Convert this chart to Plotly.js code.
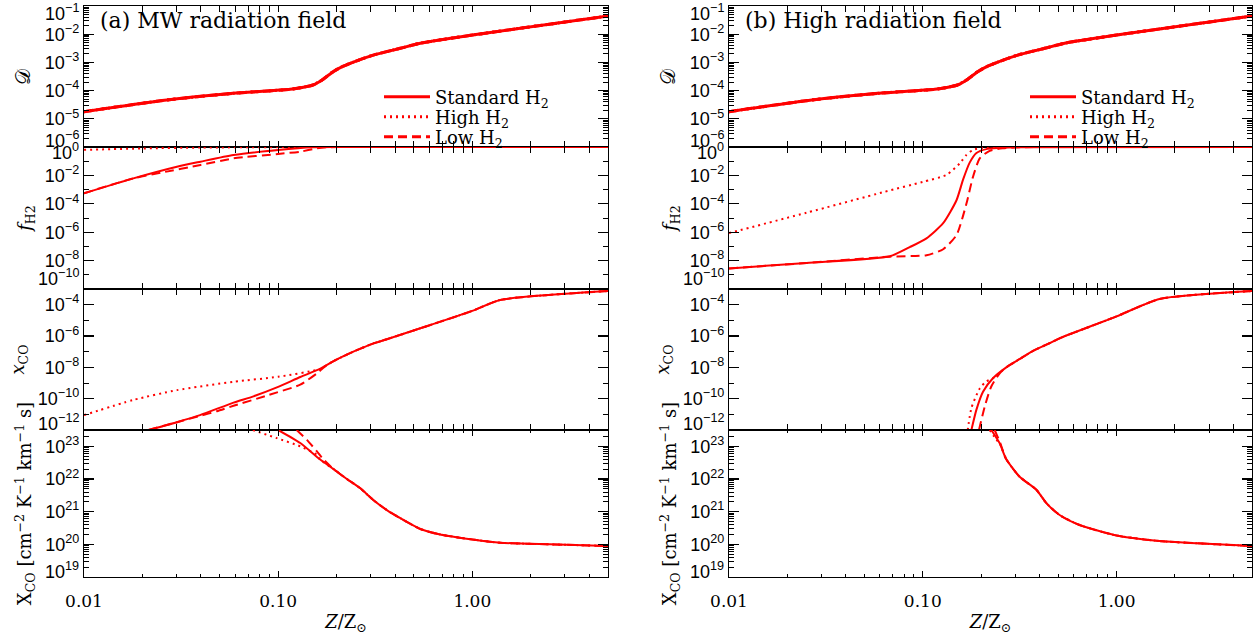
<!DOCTYPE html>
<html><head><meta charset="utf-8">
<script src="https://cdn.plot.ly/plotly-3.0.1.min.js"></script>
<style>html,body{margin:0;padding:0;background:#fff}#chart{width:1260px;height:635px}</style>
</head><body><div id="chart"></div>
<script>
// ---------- data ----------
// Top row, both columns: dust-to-gas ratio D (three H2 models coincide)
const zD = [0.01,0.0267,0.0586,0.1153,0.135,0.151,0.170,0.192,0.214,0.235,0.309,0.426,0.540,1.0,5.0];
const dD = [1.79e-5,4.65e-5,8.0e-5,1.11e-4,1.32e-4,1.58e-4,2.5e-4,4.7e-4,7.1e-4,9.3e-4,1.82e-3,3.16e-3,4.8e-3,9.3e-3,4.4e-2];

// (a) MW radiation field: f_H2
const zFa_std = [0.01,0.01795,0.0301,0.0398,0.0589,0.1,0.151,0.2,5];
const fa_std  = [5.5e-4,6.2e-3,0.041,0.093,0.275,0.62,0.955,1,1];
const zFa_high = [0.01,0.02,0.04,0.1,0.2,5];
const fa_high  = [0.63,0.79,0.91,0.98,1,1];
const zFa_low = [0.01,0.01795,0.0251,0.0398,0.0589,0.1,0.130,0.158,0.178,0.224,5];
const fa_low  = [5.5e-4,6.2e-3,0.0158,0.0537,0.158,0.324,0.468,0.813,0.955,1,1];
// (a) x_CO
const zXa_std = [0.0215,0.0301,0.0396,0.0589,0.0746,0.1,0.130,0.164,0.193,0.244,0.310,0.363,0.540,1.0,1.393,5.0];
const xa_std  = [1e-12,3.16e-12,8.9e-12,5.6e-11,1.41e-10,5.6e-10,2.4e-9,7.9e-9,2.5e-8,1e-7,3.4e-7,6.2e-7,3.1e-6,4.0e-5,2.0e-4,7.4e-4];
const zXa_high = [0.01,0.01795,0.0301,0.0589,0.1,0.164];
const xa_high  = [8.9e-12,8.3e-11,3.5e-10,1.2e-9,2.5e-9,7.9e-9];
const zXa_low = [0.0215,0.0301,0.0396,0.0483,0.0589,0.0875,0.130,0.158,0.178];
const xa_low  = [1e-12,3.16e-12,7.9e-12,1.58e-11,3.5e-11,1.58e-10,7.9e-10,4.0e-9,1.41e-8];
// (a) X_CO
const zCa_std = [0.1,0.130,0.164,0.193,0.226,0.265,0.310,0.363,0.426,0.540,0.684,1.0,1.393,2.51,5.0];
const Ca_std  = [3.16e23,1.26e23,4.0e22,2.0e22,1.0e22,5.2e21,2.24e21,1.12e21,6.3e20,2.95e20,2.0e20,1.41e20,1.12e20,1.0e20,8.9e19];
const zCa_high = [0.0741,0.0984,0.130,0.158];
const Ca_high  = [3.16e23,1.78e23,1.0e23,5.5e22];
const zCa_low = [0.1245,0.1406,0.158,0.171,0.182];
const Ca_low  = [3.16e23,1.58e23,7.1e22,4.0e22,2.8e22];

// (b) High radiation field: f_H2
const zFb_std = [0.01,0.0251,0.0676,0.0857,0.1045,0.1274,0.1493,0.1614,0.1746,0.1892,0.2128,0.2495,0.3162,5];
const fb_std  = [2.8e-9,6.8e-9,2.0e-8,8.9e-8,3.7e-7,4.3e-6,1.78e-4,5.0e-3,0.079,0.38,0.71,0.85,0.955,1];
const zFb_high = [0.01,0.0251,0.0631,0.1,0.1324,0.1552,0.1679,0.1816,0.2042,0.2512,5];
const fb_high  = [8.7e-7,2.34e-5,6.8e-4,3.5e-3,0.0107,0.0708,0.275,0.617,0.891,1,1];
const zFb_low = [0.01,0.0251,0.0676,0.1045,0.1274,0.1493,0.1679,0.1816,0.1968,0.2213,0.2582,0.3162,5];
const fb_low  = [2.8e-9,6.8e-9,1.9e-8,2.4e-8,6.3e-8,6.3e-7,1.0e-4,7.9e-3,0.158,0.54,0.81,0.955,1];
// (b) x_CO
const zXb_std = [0.1782,0.1892,0.2046,0.2301,0.2698,0.3162,0.3707,0.4519,0.5082,1.0,1.667,5.0];
const xb_std  = [1e-12,2.0e-11,2.8e-10,2.0e-9,1.0e-8,3.4e-8,1.12e-7,3.5e-7,7.1e-7,1.78e-5,2.3e-4,7.4e-4];
const zXb_high = [0.1706,0.1782,0.1968,0.2128];
const xb_high  = [1e-12,2.5e-11,4.5e-10,1.26e-9];
const zXb_low = [0.195,0.2089,0.2254,0.2495];
const xb_low  = [1e-12,3.2e-11,5.8e-10,4.2e-9];
// (b) X_CO
const zCb_std = [0.2259,0.2495,0.2698,0.3162,0.3855,0.4345,0.5082,0.6442,1.0,1.667,5.0];
const Cb_std  = [3.16e23,1.23e23,4.0e22,1.17e22,4.7e21,1.82e21,7.9e20,3.9e20,1.86e20,1.26e20,8.9e19];
const zCb_high = [0.2213,0.2399];
const Cb_high  = [3.16e23,1.58e23];
const zCb_low = [0.235,0.2512,0.2594];
const Cb_low  = [3.16e23,1.26e23,7.1e22];

// tick labels / texts
const xTickVals = [0.01, 0.1, 1];
const xTickText = ['0.01', '0.10', '1.00'];
const panelTitles = ['(a) MW radiation field', '(b) High radiation field'];
const seriesNames = {std: 'Standard H<sub>2</sub>', high: 'High H<sub>2</sub>', low: 'Low H<sub>2</sub>'};
const yTitles = ['\u{1D49F}', '<i>f</i><sub>H2</sub>', '<i>x</i><sub>CO</sub>',
  'X<sub>CO</sub> [cm<sup>\u22122</sup> K<sup>\u22121</sup> km<sup>\u22121</sup> s]'];

// ---------- helpers ----------
function withTail(z, v, zt, vt) {
  const last = z[z.length - 1];
  const zz = z.slice(), vv = v.slice();
  for (let i = 0; i < zt.length; i++) if (zt[i] > last) { zz.push(zt[i]); vv.push(vt[i]); }
  return [zz, vv];
}
const cols = [
  [
    {std: [zD, dD], high: [zD, dD], low: [zD, dD]},
    {std: [zFa_std, fa_std], high: [zFa_high, fa_high], low: [zFa_low, fa_low]},
    {std: [zXa_std, xa_std], high: withTail(zXa_high, xa_high, zXa_std, xa_std), low: withTail(zXa_low, xa_low, zXa_std, xa_std)},
    {std: [zCa_std, Ca_std], high: withTail(zCa_high, Ca_high, zCa_std, Ca_std), low: withTail(zCa_low, Ca_low, zCa_std, Ca_std)}
  ],
  [
    {std: [zD, dD], high: [zD, dD], low: [zD, dD]},
    {std: [zFb_std, fb_std], high: [zFb_high, fb_high], low: [zFb_low, fb_low]},
    {std: [zXb_std, xb_std], high: withTail(zXb_high, xb_high, zXb_std, xb_std), low: withTail(zXb_low, xb_low, zXb_std, xb_std)},
    {std: [zCb_std, Cb_std], high: withTail(zCb_high, Cb_high, zCb_std, Cb_std), low: withTail(zCb_low, Cb_low, zCb_std, Cb_std)}
  ]
];

const RED = '#ff0000';
const dashes = {std: 'solid', high: '2px,4px', low: '9px,5px'};
const kinds = ['std', 'high', 'low'];

// geometry
const W = 1260, H = 635, ML = 84, MR = 8, MT = 6, MB = 58;
const PW = W - ML - MR, PH = H - MT - MB;
const colDom = [[0, 524 / PW], [645 / PW, 1]];
const rowPx = [6, 147, 289, 430, 577];
const rowDom = r => [(H - MB - rowPx[r + 1]) / PH, (H - MB - rowPx[r]) / PH];
const px2x = p => (p - ML) / PW;
const px2y = p => (H - MB - p) / PH;

const rowSpec = [
  {lo: -6, hi: -1, labels: [-5, -4, -3, -2], majors: [-6, -5, -4, -3, -2, -1], dense: true, edges: [[-1, -6], [-6, 8]]},
  {lo: -10, hi: 0, labels: [-2, -4, -6, -8], majors: [0, -2, -4, -6, -8, -10], odd: [-1, -3, -5, -7, -9], edges: [[0, -5], [-10, 12]]},
  {lo: -12, hi: -3, labels: [-4, -6, -8, -10], majors: [-4, -6, -8, -10, -12], odd: [-3, -5, -7, -9, -11], edges: [[-12, 8]]},
  {lo: 19, hi: 23.5, labels: [20, 21, 22, 23], majors: [19, 20, 21, 22, 23], dense: true, edges: [[19, 7]]}
];
const pow = e => '10<sup>' + (e < 0 ? '\u2212' + (-e) : e) + '</sup>';

const TICKFONT = {family: 'Liberation Sans, Arial, sans-serif', size: 18, color: '#000'};
const SERIF = 'DejaVu Serif, serif';
const LW = 1.2;

const traces = [];
const layout = {
  width: W, height: H,
  margin: {l: ML, r: MR, t: MT, b: MB, pad: 0},
  paper_bgcolor: '#fff', plot_bgcolor: '#fff',
  showlegend: true,
  annotations: [],
  font: {family: SERIF, color: '#000'}
};

const xMinor = [];
for (let d = -2; d <= 0; d++) for (let k = 2; k <= 9; k++) { const v = k * Math.pow(10, d); if (v <= 5.0001) xMinor.push(v); }

// legend item centres (px) in the reference
const legendRowsPx = [97, 117, 137];
const legendTextStartPx = [435, 1081];

for (let c = 0; c < 2; c++) {
  const xa = c === 0 ? 'x' : 'x2';
  const xKey = c === 0 ? 'xaxis' : 'xaxis2';
  layout[xKey] = {
    type: 'log', range: [-2, Math.log10(5)], domain: colDom[c], anchor: 'y' + (c * 4 + 4),
    showline: true, linecolor: '#000', linewidth: LW, mirror: 'allticks',
    ticks: 'inside', ticklen: 6, tickwidth: 1.2, tickcolor: '#000',
    tickmode: 'array', tickvals: xTickVals, ticktext: xTickText,
    tickfont: {family: SERIF, size: 17, color: '#000'},
    ticklabelposition: 'outside', ticklabelstandoff: 8,
    minor: {tickmode: 'array', tickvals: xMinor, ticks: 'inside', ticklen: 3, tickwidth: 1, tickcolor: '#000', showgrid: false},
    showgrid: false, zeroline: false,
    title: {text: '<i>Z</i>/Z<sub>\u2299</sub>', font: {family: SERIF, size: 18, color: '#000'}, standoff: 6}
  };
  for (let r = 0; r < 4; r++) {
    const n = c * 4 + r + 1;
    const spec = rowSpec[r];
    const ya = 'y' + n;
    const yKey = 'yaxis' + (n === 1 ? '' : n);
    const minorVals = [];
    if (spec.dense) {
      for (let d = Math.floor(spec.lo); d < spec.hi; d++) for (let k = 2; k <= 9; k++) {
        const v = k * Math.pow(10, d); if (Math.log10(v) < spec.hi) minorVals.push(v);
      }
    } else {
      spec.odd.forEach(e => minorVals.push(Math.pow(10, e)));
    }
    layout[yKey] = {
      type: 'log', range: [spec.lo, spec.hi], domain: rowDom(r), anchor: xa,
      showline: true, linecolor: '#000', linewidth: LW, mirror: 'allticks',
      ticks: 'inside', ticklen: 10, tickwidth: 1.2, tickcolor: '#000',
      tickmode: 'array',
      tickvals: spec.majors.map(e => Math.pow(10, e)),
      ticktext: spec.majors.map(e => spec.labels.includes(e) ? pow(e) : ''),
      tickfont: TICKFONT,
      minor: {tickmode: 'array', tickvals: minorVals, ticks: 'inside', ticklen: 5, tickwidth: 1, tickcolor: '#000', showgrid: false},
      showgrid: false, zeroline: false,
      title: {text: yTitles[r], font: {family: SERIF, size: r === 0 ? 20 : 18, color: '#000'}, standoff: 8}
    };
    spec.edges.forEach(([e, sh]) => {
      layout.annotations.push({
        xref: xa + ' domain', yref: ya, x: 0, y: e, xanchor: 'right', yanchor: 'middle',
        xshift: -3, yshift: sh, showarrow: false, text: pow(e), font: TICKFONT
      });
    });
    ['high', 'low', 'std'].forEach(kind => {
      const s = cols[c][r][kind];
      const li = kinds.indexOf(kind);
      const legName = 'legend' + (c * 3 + li === 0 ? '' : (c * 3 + li + 1));
      traces.push({
        type: 'scatter', mode: 'lines', x: s[0], y: s[1], xaxis: xa, yaxis: ya,
        line: {color: RED, width: r === 0 ? 3 : 2, dash: dashes[kind], shape: 'spline', smoothing: 0.6},
        name: seriesNames[kind],
        showlegend: r === 0, legend: legName,
        hoverinfo: 'skip'
      });
    });
  }
  layout.annotations.push({
    xref: 'paper', yref: 'paper', x: px2x(c === 0 ? 98 : 743), y: px2y(20),
    xanchor: 'left', yanchor: 'middle', showarrow: false,
    text: panelTitles[c], font: {family: SERIF, size: 22, color: '#000'}
  });
  kinds.forEach((kind, li) => {
    const idx = c * 3 + li;
    const key = 'legend' + (idx === 0 ? '' : idx + 1);
    layout[key] = {
      x: px2x(legendTextStartPx[c] - 56), y: px2y(legendRowsPx[li]),
      xanchor: 'left', yanchor: 'middle', bgcolor: 'rgba(0,0,0,0)', borderwidth: 0,
      font: {family: SERIF, size: 18, color: '#000'}, itemwidth: 46
    };
  });
}

Plotly.newPlot('chart', traces, layout, {displayModeBar: false, staticPlot: true});
</script>
</body></html>
